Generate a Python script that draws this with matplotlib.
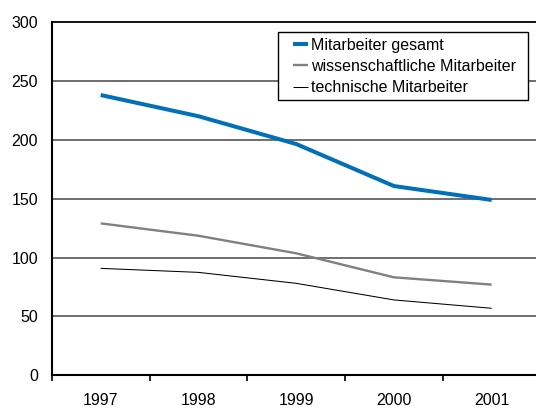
import matplotlib
matplotlib.use("Agg")
import matplotlib.pyplot as plt
from matplotlib.patches import Rectangle
import numpy as np

years = ["1997", "1998", "1999", "2000", "2001"]
gesamt = [238, 220, 196.4, 160.7, 148.9]
wissenschaftlich = [129, 118.5, 103.6, 83.2, 77]
technisch = [90.8, 87.4, 78.1, 64, 56.9]
yticks = [0, 50, 100, 150, 200, 250, 300]

plt.rcParams['font.family'] = ['Liberation Sans', 'DejaVu Sans']

W, H = 536, 408
x0, y0, ytop, cat_w = 51.8, 375.3, 22.0, 97.75
fig = plt.figure(figsize=(W / 100, H / 100), dpi=100)
ax = fig.add_axes([x0 / W, (H - y0) / H, (W - x0) / W, (y0 - ytop) / H])

x = np.arange(len(years))
ax.plot(x, gesamt, color='#0070B8', lw=2.9, label='Mitarbeiter gesamt', solid_capstyle='butt', zorder=5)
ax.plot(x, wissenschaftlich, color='#808080', lw=1.7, label='wissenschaftliche Mitarbeiter', solid_capstyle='butt', zorder=4)
ax.plot(x, technisch, color='#000000', lw=0.75, label='technische Mitarbeiter', solid_capstyle='butt', zorder=4)

ax.set_ylim(0, 300)
ax.set_xlim(-0.5, -0.5 + (W - x0) / cat_w)
ax.set_yticks(yticks)
ax.set_yticklabels([str(v) for v in yticks], fontsize=11.5)
ax.set_xticks(x)
ax.set_xticklabels(years, fontsize=11.5)
ax.set_xticks(np.arange(-0.5, 4.0, 1.0), minor=True)
ax.tick_params(axis='x', which='major', length=0, pad=13)
ax.tick_params(axis='x', which='minor', length=4, width=1.2, direction='out', color='black')
ax.tick_params(axis='y', length=0, pad=10)

for v in yticks[1:-1]:
    ax.axhline(v, color='#555555', lw=1.2, zorder=1)

ax.spines['right'].set_visible(False)
ax.spines['top'].set_linewidth(1.3)
ax.spines['left'].set_linewidth(1.5)
ax.spines['bottom'].set_linewidth(1.5)

# legend frame (pixel box of the reference)
bx0, by0, bx1, by1 = 277.7, 32.3, 528.3, 100.0
frame = Rectangle((bx0 / W, 1 - by1 / H), (bx1 - bx0) / W, (by1 - by0) / H,
                  transform=fig.transFigure, facecolor='white', edgecolor='black',
                  lw=1.0, zorder=6, clip_on=False)
ax.add_patch(frame)

leg = ax.legend(loc='center left', bbox_to_anchor=(292.7 / W, 1 - 66.5 / H),
                bbox_transform=fig.transFigure, fontsize=11.5, frameon=False,
                handlelength=0.94, handletextpad=0.19, labelspacing=0.39,
                borderpad=0, borderaxespad=0)
leg.set_zorder(7)

fig.savefig('out.png', dpi=100)
